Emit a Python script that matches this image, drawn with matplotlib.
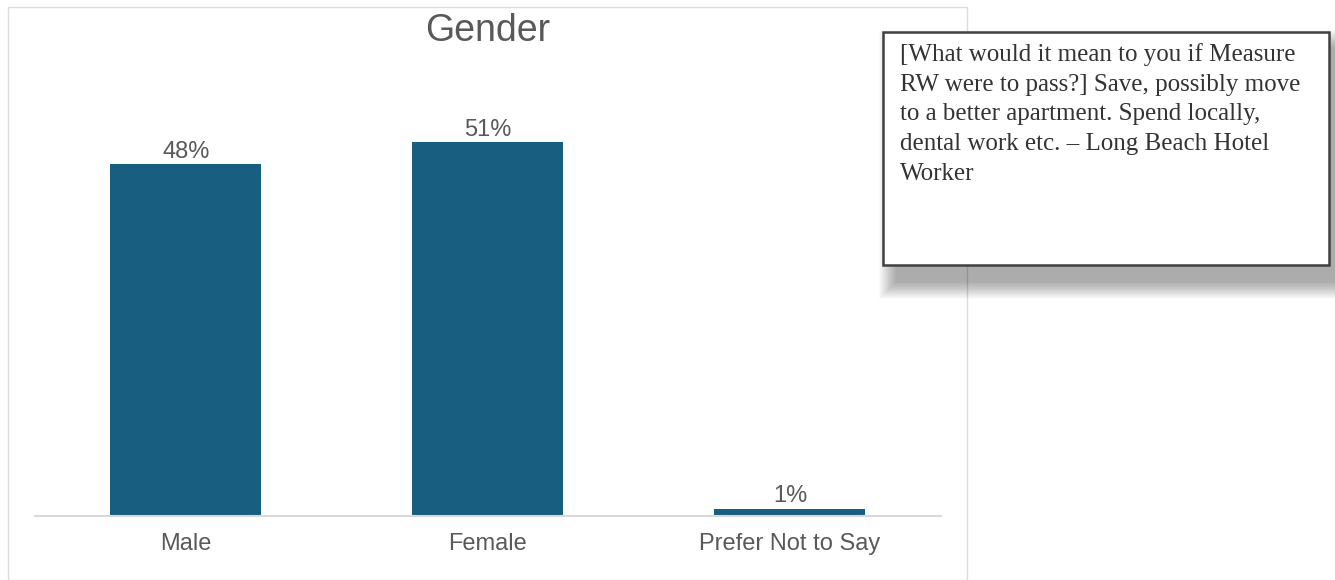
import matplotlib.pyplot as plt
from matplotlib.patches import Rectangle

categories = ["Male", "Female", "Prefer Not to Say"]
values = [48, 51, 1]
labels = ["48%", "51%", "1%"]
title = "Gender"
quote = ("[What would it mean to you if Measure\n"
         "RW were to pass?] Save, possibly move\n"
         "to a better apartment. Spend locally,\n"
         "dental work etc. \u2013 Long Beach Hotel\n"
         "Worker")

W, H = 1335, 580
bar_color = "#175e80"
text_color = "#595959"

plt.rcParams["font.family"] = ["Liberation Sans", "DejaVu Sans"]

fig = plt.figure(figsize=(W / 100, H / 100), dpi=100)


def px(x, y):
    return x / W, 1 - y / H


# chart panel border
x0, y0 = px(8, 580)
fig.patches.append(Rectangle((x0, y0), (967 - 8) / W, (580 - 7) / H,
                             transform=fig.transFigure, fill=False,
                             edgecolor="#dcdcdc", linewidth=1, zorder=0))

ax = fig.add_axes([35 / W, 1 - 516 / H, (941 - 35) / W, 440 / H])
x = range(len(categories))
bars = ax.bar(x, values, width=0.5, color=bar_color)
ax.set_xlim(-0.5, 2.5)
ax.set_ylim(0, 60)
for b, lab in zip(bars, labels):
    ax.text(b.get_x() + b.get_width() / 2, b.get_height() + 0.2, lab,
            ha="center", va="bottom", fontsize=17, color=text_color)
ax.set_xticks(list(x))
ax.set_xticklabels(categories, fontsize=17, color=text_color)
ax.tick_params(axis="x", length=0, pad=12)
ax.set_yticks([])
for s in ["top", "right", "left"]:
    ax.spines[s].set_visible(False)
ax.spines["bottom"].set_color("#d9d9d9")
ax.spines["bottom"].set_linewidth(1.5)
ax.set_facecolor("none")

fx, fy = px(488, 31)
fig.text(fx, fy, title, ha="center", va="center", fontsize=27, color=text_color)

# quote box with soft shadow
bx, by, bw, bh = 883, 32, 446, 233
for i in range(18):
    grow = 18 - i
    sx, sy = px(bx + 14 - grow, by + bh + 16 + grow)
    fig.patches.append(Rectangle((sx, sy), (bw + 2 * grow) / W, (bh + 2 * grow) / H,
                                 transform=fig.transFigure, facecolor="#000000",
                                 edgecolor="none", alpha=0.02, zorder=1))
qx, qy = px(bx, by + bh)
fig.patches.append(Rectangle((qx, qy), bw / W, bh / H, transform=fig.transFigure,
                             facecolor="white", edgecolor="#404040",
                             linewidth=1.8, zorder=2))
tx, ty = px(900, 43)
fig.text(tx, ty, quote, ha="left", va="top", fontsize=18, color="#333333",
         family=["Liberation Serif", "DejaVu Serif"], linespacing=1.45, zorder=3)

fig.savefig("out.png", dpi=100)
